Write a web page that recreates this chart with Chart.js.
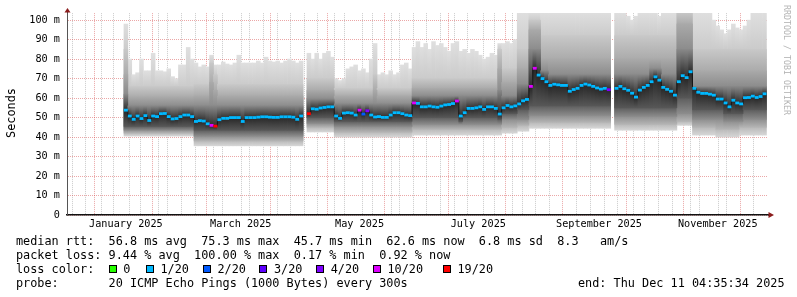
<!DOCTYPE html>
<html><head><meta charset="utf-8">
<script src="https://cdn.jsdelivr.net/npm/chart.js@4/dist/chart.umd.min.js"></script>
<style>
html,body{margin:0;padding:0;background:#fff;}
#wrap{position:relative;width:797px;height:297px;overflow:hidden;background:#fff;}
#c{position:absolute;left:0;top:0;}
.t{position:absolute;font-family:"DejaVu Sans Mono",monospace;font-size:11.83px;line-height:14px;white-space:pre;color:#000;}
.box{position:absolute;width:6px;height:6px;border:1px solid #000;}
#credit{position:absolute;font-family:"DejaVu Sans Mono",monospace;font-size:8.3px;line-height:10px;white-space:pre;color:#b4b4b4;width:112px;height:10px;text-align:center;left:731px;top:55px;transform:rotate(90deg);}
#ylab{left:-14px;top:106px;width:50px;height:14px;text-align:center;transform:rotate(-90deg);}
</style></head>
<body>
<div id="wrap">
<canvas id="c" width="797" height="297"></canvas>
<div id="ylab" class="t">Seconds</div>
<div id="credit">RRDTOOL / TOBI OETIKER</div>
<div id="legend"></div>
</div>
<script>
// ---- sample days (day 0 = 1 Jan 2025), 2-day steps ----
const days = [
15,17,19,21,23,25,27,29,31,33,
35,37,39,41,43,45,47,49,51,53,
55,57,59,61,63,65,67,69,71,73,
75,77,79,81,83,85,87,89,91,93,
95,97,99,101,103,105,107,109,111,113,
115,117,119,121,123,125,127,129,131,133,
135,137,139,141,143,145,147,149,151,153,
155,157,159,161,163,165,167,169,171,173,
175,177,179,181,183,185,187,189,191,193,
195,197,199,201,203,205,207,209,211,213,
215,217,219,221,223,225,227,229,231,233,
235,237,239,241,243,245,247,249,251,253,
255,257,259,261,263,265,267,269,271,273,
275,277,279,281,283,285,287,289,291,293,
295,297,299,301,303,305,307,309,311,313,
315,317,319,321,323,325,327,329,331,333,
335,337,339,341,343];

// median rtt (ms)
const median = [
53.8,50.8,49.1,50.8,49.5,51.0,48.5,50.8,50.5,52.0,
52.1,50.5,49.3,49.5,50.5,51.3,51.3,50.5,48.0,48.4,
48.2,46.8,46.0,45.6,48.9,49.6,49.6,50.0,50.0,50.0,
48.0,50.0,50.0,50.0,50.2,50.4,50.4,50.2,50.1,50.1,
50.4,50.4,50.4,50.2,49.1,50.8,null,52.0,54.5,54.3,
54.9,55.2,55.5,55.5,50.8,49.6,52.3,52.5,52.3,51.3,
53.8,51.8,53.5,51.3,50.3,50.5,50.1,50.1,51.3,52.5,
52.5,52.0,51.3,51.0,57.5,57.3,55.5,55.5,55.9,55.5,
55.3,55.9,56.5,56.7,57.2,58.5,50.8,52.5,54.7,54.7,
55.0,55.5,54.2,55.5,55.5,54.7,51.8,55.0,56.2,55.5,
56.0,57.0,58.6,59.3,66.0,75.3,71.8,70.0,68.4,66.5,
67.1,66.8,66.5,66.5,63.5,64.4,65.0,66.5,67.2,66.7,
66.0,65.2,64.6,65.0,64.3,null,65.0,66.0,64.8,64.0,
62.5,60.5,64.1,65.5,66.5,68.4,70.9,69.2,65.5,64.5,
63.5,61.5,68.4,71.5,70.5,73.5,65.0,63.0,62.4,62.4,
62.0,61.5,59.5,59.5,57.5,55.5,58.9,57.5,57.0,60.2,
60.3,61.0,60.3,60.8,62.2];

// pings lost out of 20
const lost = [
1,1,1,1,1,1,1,1,1,1,
1,1,1,1,1,1,1,1,1,1,
1,1,10,19,1,1,1,1,1,1,
1,1,1,1,1,1,1,1,1,1,
1,1,1,1,1,1,null,19,1,1,
1,1,1,1,1,1,1,1,1,1,
10,2,4,1,1,1,1,1,1,1,
1,1,1,1,10,1,1,1,1,1,
1,1,1,1,1,10,1,1,1,1,
1,1,1,1,1,1,1,1,1,1,
1,1,1,1,10,10,1,1,1,1,
1,1,1,1,1,1,1,1,1,1,
1,1,1,1,4,null,1,1,1,1,
1,1,1,1,1,1,1,1,1,1,
1,1,1,1,1,1,1,1,1,1,
1,1,1,1,1,1,1,1,1,1,
1,1,1,1,1];

// smoke envelopes (ms): outermost (max/min ping) to inner core
const smokeTop = [
98,80,72,73,80,74,74,83,74,74,
73.5,75,71,70,77,77,86,80,78,76,
77,76,82,77,77,78.5,77.5,77,78,82,
78,78,78,78,79,78,81,79,78.5,79,
78,79,80,79,78,79,null,83,80,83,
80,83,84,81,70,69,70,75,76,77,
74,75,73,80,88,72,73,72,74,72,
73,77,78,75,86,89,86,88,85,89,
87,88,86,84,88,89,84,85,83,85,
84,82,80,81,83,82,88,88,89,88,
90,104,104,104,104,104,104,104,104,104,
104,104,104,104,104,104,104,104,104,104,
104,104,104,104,104,null,104,104,104,102,
100,102,104,104,104,104,104,102,104,104,
104,104,104,104,104,104,104,104,104,104,
104,100,97,95,93,95,98,96,95,97,
100,104,104,104,104];
const smokeUp2 = [
85,66,66,66,66,66,66,66,66,66,
66,66,66,66,66,66,66,66,67,67,
67,67,78,72,67,67,67,67,67,67,
67,67,67,67,67,67,67,67,67,67,
67,67,67,67,67,67,null,70,70,70,
70,70,70,70,65,65,65,65,65,65,
65,65,65,65,72,65,65,65,65,65,
65,65,65,65,70,70,70,70,70,70,
70,70,70,70,70,70,70,70,70,70,
70,70,70,70,70,70,85,75,75,75,
75,85,85,85,100,100,100,92,92,92,
92,92,92,92,92,92,92,92,92,92,
92,92,92,92,92,null,92,92,92,92,
92,92,92,92,92,92,92,92,92,92,
92,92,104,104,104,104,85,85,85,85,
85,85,85,85,85,85,85,85,85,85,
85,85,85,85,85];
const smokeUp3 = [
72,60.5,60.5,60.5,60.5,60.5,60.5,60.5,60.5,60.5,
60.5,60.5,60.5,60.5,60.5,60.5,60.5,60.5,61,61,
61,61,68,64,61,61,61,61,61,61,
61,61,61,61,61,61,61,61,61,61,
61,61,61,61,61,61,null,64,64,64,
64,64,64,64,61,61,61,61,61,61,
61,61,61,61,64,61,61,61,61,61,
61,61,61,61,65,65,65,65,65,65,
65,65,65,65,65,65,65,65,65,65,
65,65,65,65,65,65,75,68,68,68,
68,75,75,75,95,95,95,80,80,80,
80,80,80,80,80,80,80,80,80,80,
80,80,80,80,80,null,80,80,80,80,
80,80,80,80,80,80,80,80,80,80,
80,80,98,98,98,98,74,74,74,74,
74,74,74,74,74,74,74,74,74,74,
74,74,74,74,74];
const smokeUp4 = [
62,56,56,56,56,56,56,56,56,56,
56,56,56,56,56,56,56,56,56,56,
56,56,56,56,56,56,56,56,56,56,
56,56,56,56,56,56,56,56,56,56,
56,56,56,56,56,56,null,59.5,59.5,59.5,
59.5,59.5,59.5,59.5,57,57,57,57,57,57,
57,57,57,57,57,57,57,57,57,57,
57,57,57,57,61,61,61,61,61,61,
61,61,61,61,61,61,61,61,61,61,
61,61,61,61,61,61,64,61,61,61,
61,67,67,67,85,85,85,74,74,72,
72,72,72,72,72,72,72,72,72,72,
72,72,72,72,72,null,72,72,72,72,
72,72,72,72,72,75,75,75,72,72,
72,72,85,85,85,85,66,66,66,66,
66,66,66,66,66,66,66,66,66,66,
66,66,66,66,66];
const smokeLo4 = [
45.5,45.5,45.5,45.5,45.5,45.5,45.5,45.5,45.5,45.5,
45.5,45.5,45.5,45.5,45.5,45.5,45.5,45.5,43.5,43.5,
43.5,43.5,43.5,43.5,43.5,43.5,43.5,43.5,43.5,43.5,
43.5,43.5,43.5,43.5,43.5,43.5,43.5,43.5,43.5,43.5,
43.5,43.5,43.5,43.5,43.5,43.5,null,50,50,50,
50,50,50,50,48,48,48,48,48,48,
48,48,48,48,48,48,48,48,48,48,
48,48,48,48,50,50,50,50,50,50,
50,50,50,50,50,50,48,50,50,50,
50,50,50,50,50,50,49,52,52,52,
52,54,54,54,56,56,56,56,56,56,
56,56,56,56,56,56,56,56,56,56,
56,56,56,56,56,null,55,55,55,55,
55,55,55,55,55,55,55,55,55,55,
55,55,60,60,60,60,54,54,54,54,
54,54,54,54,52,52,52,52,52,54,
54,54,54,54,54];
const smokeLo3 = [
43.5,43.5,43.5,43.5,43.5,43.5,43.5,43.5,43.5,43.5,
43.5,43.5,43.5,43.5,43.5,43.5,43.5,43.5,40.5,40.5,
40.5,40.5,40.5,40.5,40.5,40.5,40.5,40.5,40.5,40.5,
40.5,40.5,40.5,40.5,40.5,40.5,40.5,40.5,40.5,40.5,
40.5,40.5,40.5,40.5,40.5,40.5,null,47,47,47,
47,47,47,47,45.3,45.3,45.3,45.3,45.3,45.3,
45.3,45.3,45.3,45.3,45.3,45.3,45.3,45.3,45.3,45.3,
45.3,45.3,45.3,45.3,46.5,46.5,46.5,46.5,46.5,46.5,
46.5,46.5,46.5,46.5,46.5,46.5,46.5,46.5,46.5,46.5,
46.5,46.5,46.5,46.5,46.5,46.5,46.5,49,49,49,
49,49,49,49,51,51,51,51,51,51,
51,51,51,51,51,51,51,51,51,51,
51,51,51,51,51,null,50.5,50.5,50.5,50.5,
50.5,50.5,50.5,50.5,50.5,50.5,50.5,50.5,50.5,50.5,
50.5,50.5,52,52,52,52,49,49,49,49,
49,49,49,49,48,48,48,48,48,49,
49,49,49,49,49];
const smokeLo2 = [
42,42,42,42,42,42,42,42,42,42,
42,42,42,42,42,42,42,42,38,38,
38,38,38,38,38,38,38,38,38,38,
38,38,38,38,38,38,38,38,38,38,
38,38,38,38,38,38,null,45,45,45,
45,45,45,45,42.5,42.5,42.5,42.5,42.5,42.5,
42.5,42.5,42.5,42.5,42.5,42.5,42.5,42.5,42.5,42.5,
42.5,42.5,42.5,42.5,44,44,44,44,44,44,
44,44,44,44,44,44,44,44,44,44,
44,44,44,44,44,44,44,45,45,45,
45,46,46,46,47.5,47.5,47.5,47.5,47.5,47.5,
47.5,47.5,47.5,47.5,47.5,47.5,47.5,47.5,47.5,47.5,
47.5,47.5,47.5,47.5,47.5,null,46.5,46.5,46.5,46.5,
46.5,46.5,46.5,46.5,46.5,46.5,46.5,46.5,46.5,46.5,
46.5,46.5,48,48,48,48,45,45,45,45,
45,45,44,44,44,44,44,44,45,45,
45,45,45,45,45];
const smokeBot = [
40.5,40.5,40.5,40.5,40.5,40.5,40.5,40.5,40.5,40.5,
40.5,40.5,40.5,40.5,40.5,40.5,40.5,40.5,35.5,35.5,
35.5,35.5,35.5,35.5,35.5,35.5,35.5,35.5,35.5,35.5,
35.5,35.5,35.5,35.5,35.5,35.5,35.5,35.5,35.5,35.5,
35.5,35.5,35.5,35.5,35.5,35.5,null,42.6,42.6,42.6,
42.6,42.6,42.6,42.6,40,40,40,40,40,40,
40,40,40,40,40,40,40,40,40,40,
40,40,40,40,41,41,41,41,41,41,
41,41,41,41,41,41,41,41,41,41,
41,41,41,41,41,41,41,42,42,42,
42,43,43,43,44.5,44.5,44.5,44.5,44.5,44.5,
44.5,44.5,44.5,44.5,44.5,44.5,44.5,44.5,44.5,44.5,
44.5,44.5,44.5,44.5,44.5,null,43.5,43.5,43.5,43.5,
43.5,43.5,43.5,43.5,43.5,43.5,43.5,43.5,43.5,43.5,
43.5,43.5,46,46,46,46,41,41,41,41,
41,41,40,40,40,40,40,40,41,41,
41,41,41,41,41];

// axes
const yTickValues = [0,5,10,15,20,25,30,35,40,45,50,55,60,65,70,75,80,85,90,95,100];
const monthStartDays = [0,31,59,90,120,151,181,212,243,273,304,334];
const weekStartDays = [-9,-2,5,12,19,26,33,40,47,54,61,68,75,82,89,96,103,110,117,124,131,138,145,152,159,166,173,180,187,194,201,208,215,222,229,236,243,250,257,264,271,278,285,292,299,306,313,320,327,334,341];
const monthLabelDays = [15,74,135,196,258,319];
const monthLabels = ['January 2025','March 2025','May 2025','July 2025','September 2025','November 2025'];

// legend
const legendRows = [
  'median rtt:  56.8 ms avg  75.3 ms max  45.7 ms min  62.6 ms now  6.8 ms sd  8.3   am/s',
  'packet loss: 9.44 % avg  100.00 % max  0.17 % min  0.92 % now',
  'loss color:',
  'probe:       20 ICMP Echo Pings (1000 Bytes) every 300s'
];
const endText = 'end: Thu Dec 11 04:35:34 2025';
const lossLevels = [0,1,2,3,4,10,19];
const lossLabels = ['0','1/20','2/20','3/20','4/20','10/20','19/20'];
const lossColors = ['#26ff00','#00b8ff','#0059ff','#5e00ff','#7e00ff','#dd00ff','#ff0000'];

// ---------- build legend (layout) ----------
const lg = document.getElementById('legend');
const rowTops = [234,248,262,276];
legendRows.forEach((txt,i)=>{
  const d=document.createElement('div'); d.className='t';
  d.style.left='16px'; d.style.top=rowTops[i]+'px'; d.textContent=txt; lg.appendChild(d);
});
const e=document.createElement('div'); e.className='t'; e.style.left='578px'; e.style.top=rowTops[3]+'px'; e.textContent=endText; lg.appendChild(e);
const boxX=[108.5,145.7,202.7,259.3,316,372.7,442.7];
lossLabels.forEach((lab,i)=>{
  const b=document.createElement('div'); b.className='box';
  b.style.left=boxX[i]+'px'; b.style.top='264.5px'; b.style.background=lossColors[i]; lg.appendChild(b);
  const t=document.createElement('div'); t.className='t';
  t.style.left=(boxX[i]+14.7)+'px'; t.style.top=rowTops[2]+'px'; t.textContent=lab; lg.appendChild(t);
});

// ---------- chart ----------
function lossColor(n){
  if(n==null) return 'rgba(0,0,0,0)';
  let c=lossColors[0];
  lossLevels.forEach((lv,i)=>{ if(n>=lv) c=lossColors[i]; });
  return c;
}
const xTicks = new Map();
weekStartDays.forEach(d=>xTicks.set(d,{v:d,kind:'week',label:''}));
monthStartDays.forEach(d=>xTicks.set(d,{v:d,kind:'month',label:''}));
monthLabelDays.forEach((d,i)=>{
  if(xTicks.has(d)) xTicks.get(d).label=monthLabels[i];
  else xTicks.set(d,{v:d,kind:'label',label:monthLabels[i]});
});
const xTickList=[...xTicks.values()].sort((a,b)=>a.v-b.v);

const MAJOR='rgba(210,60,60,0.45)', MINOR='rgba(130,130,130,0.42)';
const bars=(lo,hi)=>days.map((d,i)=>({x:d,y:(lo[i]==null||hi[i]==null)?null:[lo[i],hi[i]]}));
// shade of each smoke band: [at outer top, at inner top, at inner bottom, at outer bottom]
function smokeFill(lo,hi,inLo,inHi,cols){
  return (c)=>{
    const ch=c.chart, i=c.dataIndex;
    if(!ch.chartArea||i==null||lo[i]==null||hi[i]==null) return cols[0];
    const ys=ch.scales.y;
    const pH=ys.getPixelForValue(hi[i]), pL=ys.getPixelForValue(lo[i]);
    if(pL-pH<0.5) return cols[1];
    const f=v=>Math.min(1,Math.max(0,(ys.getPixelForValue(v)-pH)/(pL-pH)));
    const g=ch.ctx.createLinearGradient(0,pH,0,pL);
    const a=f(inHi[i]), b=Math.max(a,f(inLo[i]));
    g.addColorStop(0,cols[0]); g.addColorStop(a,cols[1]); g.addColorStop(b,cols[2]); g.addColorStop(1,cols[3]);
    return g;
  };
}
const barDs=(lo,hi,inLo,inHi,cols,ord)=>({type:'bar',data:bars(lo,hi),backgroundColor:smokeFill(lo,hi,inLo,inHi,cols),borderWidth:0,
  grouped:false,barPercentage:1,categoryPercentage:1,xAxisID:'xb',yAxisID:'y',order:ord});
const ptColors=lost.map(lossColor);
const FONT="'DejaVu Sans Mono', monospace";
Chart.defaults.font.family=FONT;

const arrows={id:'arrows',afterDraw(chart){
  const {ctx,chartArea:a}=chart; ctx.save();
  ctx.strokeStyle='#444'; ctx.lineWidth=1;
  ctx.beginPath(); ctx.moveTo(a.left+0.5,a.top); ctx.lineTo(a.left+0.5,a.top-3); ctx.stroke();
  ctx.strokeStyle='#222'; ctx.lineWidth=1.5;
  ctx.beginPath(); ctx.moveTo(a.right,a.bottom); ctx.lineTo(a.right+2,a.bottom); ctx.stroke();
  ctx.fillStyle='#8b1c1c';
  ctx.beginPath(); ctx.moveTo(a.left-2.5,a.top-0.5); ctx.lineTo(a.left+3.5,a.top-0.5); ctx.lineTo(a.left+0.5,a.top-5); ctx.closePath(); ctx.fill();
  ctx.beginPath(); ctx.moveTo(a.right+0.5,a.bottom-3); ctx.lineTo(a.right+0.5,a.bottom+3); ctx.lineTo(a.right+6,a.bottom); ctx.closePath(); ctx.fill();
  ctx.restore();
}};

new Chart(document.getElementById('c'),{
  type:'bar',
  data:{datasets:[
    {type:'line',data:days.map((d,i)=>({x:d,y:median[i]})),xAxisID:'xb',yAxisID:'y',stepped:'middle',
     borderColor:'#151515',borderWidth:1,pointStyle:'line',pointRadius:1.98,pointBorderWidth:2.8,
     pointBorderColor:ptColors,pointBackgroundColor:ptColors,spanGaps:false,fill:false,order:0},
    barDs(smokeLo4,smokeUp4,median,median,['#888888','#2e2e2e','#262626','#575757'],2),
    barDs(smokeLo3,smokeUp3,smokeLo4,smokeUp4,['#a9a9a9','#8c8c8c','#5e5e5e','#8c8c8c'],3),
    barDs(smokeLo2,smokeUp2,smokeLo3,smokeUp3,['#c8c8c8','#ababab','#909090','#b4b4b4'],4),
    barDs(smokeBot,smokeTop,smokeLo2,smokeUp2,['#dfdfdf','#cbcbcb','#b9b9b9','#d6d6d6'],5)
  ]},
  options:{
    responsive:false,devicePixelRatio:1,animation:false,events:[],
    layout:{padding:{left:0,right:29,top:13,bottom:0}},
    plugins:{legend:{display:false},tooltip:{enabled:false}},
    scales:{
      xb:{type:'linear',display:false,min:-15.25,max:344.8,bounds:'data',offset:false},
      x:{type:'linear',position:'bottom',min:-15.25,max:344.8,bounds:'data',offset:false,z:1,
        afterBuildTicks:s=>{s.ticks=xTickList.map(t=>({value:t.v}));},
        afterFit:s=>{s.height=82;},
        grid:{drawTicks:false,lineWidth:1,color:c=>{const t=xTickList[c.index];return !t||t.kind==='label'?'rgba(0,0,0,0)':(t.kind==='month'?MAJOR:MINOR);}},
        border:{display:true,color:'#111',width:1.5,dash:[1,1]},
        ticks:{autoSkip:false,maxRotation:0,minRotation:0,padding:3,color:'#000',font:{family:FONT,size:10.2},
          callback:(v,i)=>xTickList[i]?xTickList[i].label:''}
      },
      y:{type:'linear',min:0,max:103.6,bounds:'data',z:1,
        afterBuildTicks:s=>{s.ticks=yTickValues.map(v=>({value:v}));},
        afterFit:s=>{s.width=67;},
        grid:{drawTicks:false,lineWidth:1,color:c=>(c.tick&&c.tick.value%10===0)?MAJOR:MINOR},
        border:{display:true,color:'#555',width:1,dash:[1,1]},
        ticks:{padding:7,color:'#000',font:{family:FONT,size:10.2},
          callback:v=>v%10===0?(v===0?'0':v+' m'):''}
      }
    }
  },
  plugins:[arrows]
});
</script>
</body></html>
